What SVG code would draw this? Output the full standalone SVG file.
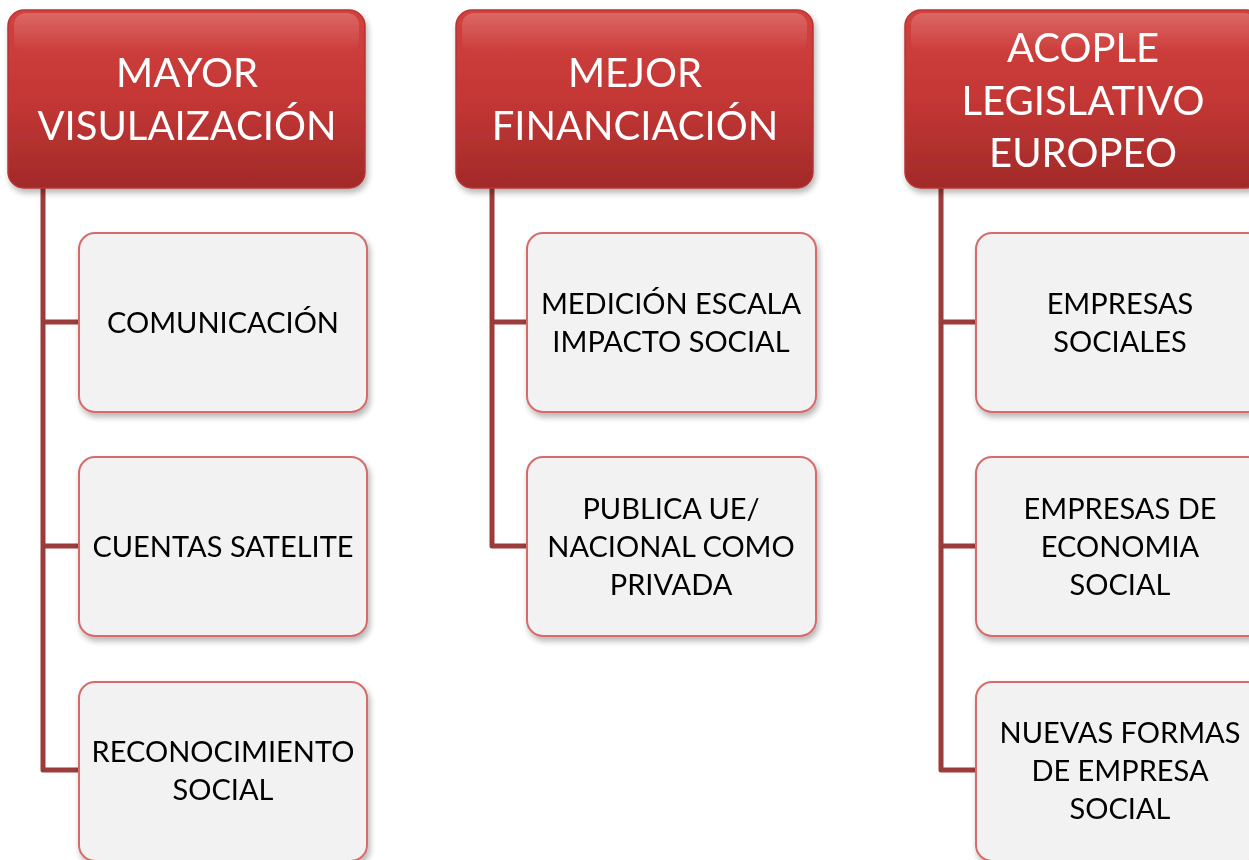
<svg xmlns="http://www.w3.org/2000/svg" width="1249" height="860" viewBox="0 0 1249 860">
<defs>
<linearGradient id="hg" x1="0" y1="0" x2="0" y2="1">
<stop offset="0" stop-color="#d2413f"/>
<stop offset="0.5" stop-color="#c43735"/>
<stop offset="1" stop-color="#a22a29"/>
</linearGradient>
<linearGradient id="gloss" x1="0" y1="0" x2="0" y2="1">
<stop offset="0" stop-color="#ffffff" stop-opacity="0.2"/>
<stop offset="1" stop-color="#ffffff" stop-opacity="0"/>
</linearGradient>
<filter id="sh" x="-10%" y="-10%" width="125%" height="125%">
<feGaussianBlur in="SourceAlpha" stdDeviation="3"/>
<feOffset dx="2" dy="4" result="b"/>
<feComponentTransfer><feFuncA type="linear" slope="0.3"/></feComponentTransfer>
<feMerge><feMergeNode/><feMergeNode in="SourceGraphic"/></feMerge>
</filter>
</defs>
<style>
.hdr{fill:url(#hg);stroke:#b83432;stroke-width:1.5}
.gl{fill:url(#gloss)}
.child{fill:#f2f2f2;stroke:#d46c6a;stroke-width:2}
.ht{font-family:Lato,"Liberation Sans",sans-serif;font-size:40px;fill:#ffffff;text-anchor:middle}
.ct{font-family:Lato,"Liberation Sans",sans-serif;font-size:29px;fill:#000000;text-anchor:middle}
.con{fill:none;stroke:#9b3b3a;stroke-width:5;stroke-linejoin:round}
</style>
<g id="connectors">
<path class="con" d="M43 188 V770 H80 M43 322 H80 M43 546 H80"/>
<path class="con" d="M492 188 V546 H528 M492 322 H528"/>
<path class="con" d="M941 188 V770 H977 M941 322 H977 M941 546 H977"/>
</g>
<g id="h1" filter="url(#sh)">
<rect class="hdr" x="8" y="10" width="357" height="178" rx="16"/>
<rect class="gl" x="14" y="13" width="345" height="40" rx="12"/>
<text class="ht" x="187" y="87">MAYOR</text>
<text class="ht" x="187" y="140">VISULAIZACIÓN</text>
</g>
<g id="h2" filter="url(#sh)">
<rect class="hdr" x="456" y="10" width="357" height="178" rx="16"/>
<rect class="gl" x="462" y="13" width="345" height="40" rx="12"/>
<text class="ht" x="635" y="87">MEJOR</text>
<text class="ht" x="635" y="140">FINANCIACIÓN</text>
</g>
<g id="h3" filter="url(#sh)">
<rect class="hdr" x="905" y="10" width="357" height="178" rx="16"/>
<rect class="gl" x="911" y="13" width="345" height="40" rx="12"/>
<text class="ht" x="1083" y="62">ACOPLE</text>
<text class="ht" x="1083" y="115">LEGISLATIVO</text>
<text class="ht" x="1083" y="167">EUROPEO</text>
</g>
<g id="c1a" filter="url(#sh)">
<rect class="child" x="79" y="233" width="288" height="179" rx="16"/>
<text class="ct" x="223" y="333">COMUNICACIÓN</text>
</g>
<g id="c1b" filter="url(#sh)">
<rect class="child" x="79" y="457" width="288" height="179" rx="16"/>
<text class="ct" x="223" y="557">CUENTAS SATELITE</text>
</g>
<g id="c1c" filter="url(#sh)">
<rect class="child" x="79" y="682" width="288" height="179" rx="16"/>
<text class="ct" x="223" y="762">RECONOCIMIENTO</text>
<text class="ct" x="223" y="800">SOCIAL</text>
</g>
<g id="c2a" filter="url(#sh)">
<rect class="child" x="527" y="233" width="289" height="179" rx="16"/>
<text class="ct" x="671" y="314">MEDICIÓN ESCALA</text>
<text class="ct" x="671" y="352">IMPACTO SOCIAL</text>
</g>
<g id="c2b" filter="url(#sh)">
<rect class="child" x="527" y="457" width="289" height="179" rx="16"/>
<text class="ct" x="671" y="519">PUBLICA UE/</text>
<text class="ct" x="671" y="557">NACIONAL COMO</text>
<text class="ct" x="671" y="595">PRIVADA</text>
</g>
<g id="c3a" filter="url(#sh)">
<rect class="child" x="976" y="233" width="288" height="179" rx="16"/>
<text class="ct" x="1120" y="314">EMPRESAS</text>
<text class="ct" x="1120" y="352">SOCIALES</text>
</g>
<g id="c3b" filter="url(#sh)">
<rect class="child" x="976" y="457" width="288" height="179" rx="16"/>
<text class="ct" x="1120" y="519">EMPRESAS DE</text>
<text class="ct" x="1120" y="557">ECONOMIA</text>
<text class="ct" x="1120" y="595">SOCIAL</text>
</g>
<g id="c3c" filter="url(#sh)">
<rect class="child" x="976" y="682" width="288" height="179" rx="16"/>
<text class="ct" x="1120" y="743">NUEVAS FORMAS</text>
<text class="ct" x="1120" y="781">DE EMPRESA</text>
<text class="ct" x="1120" y="819">SOCIAL</text>
</g>
</svg>
